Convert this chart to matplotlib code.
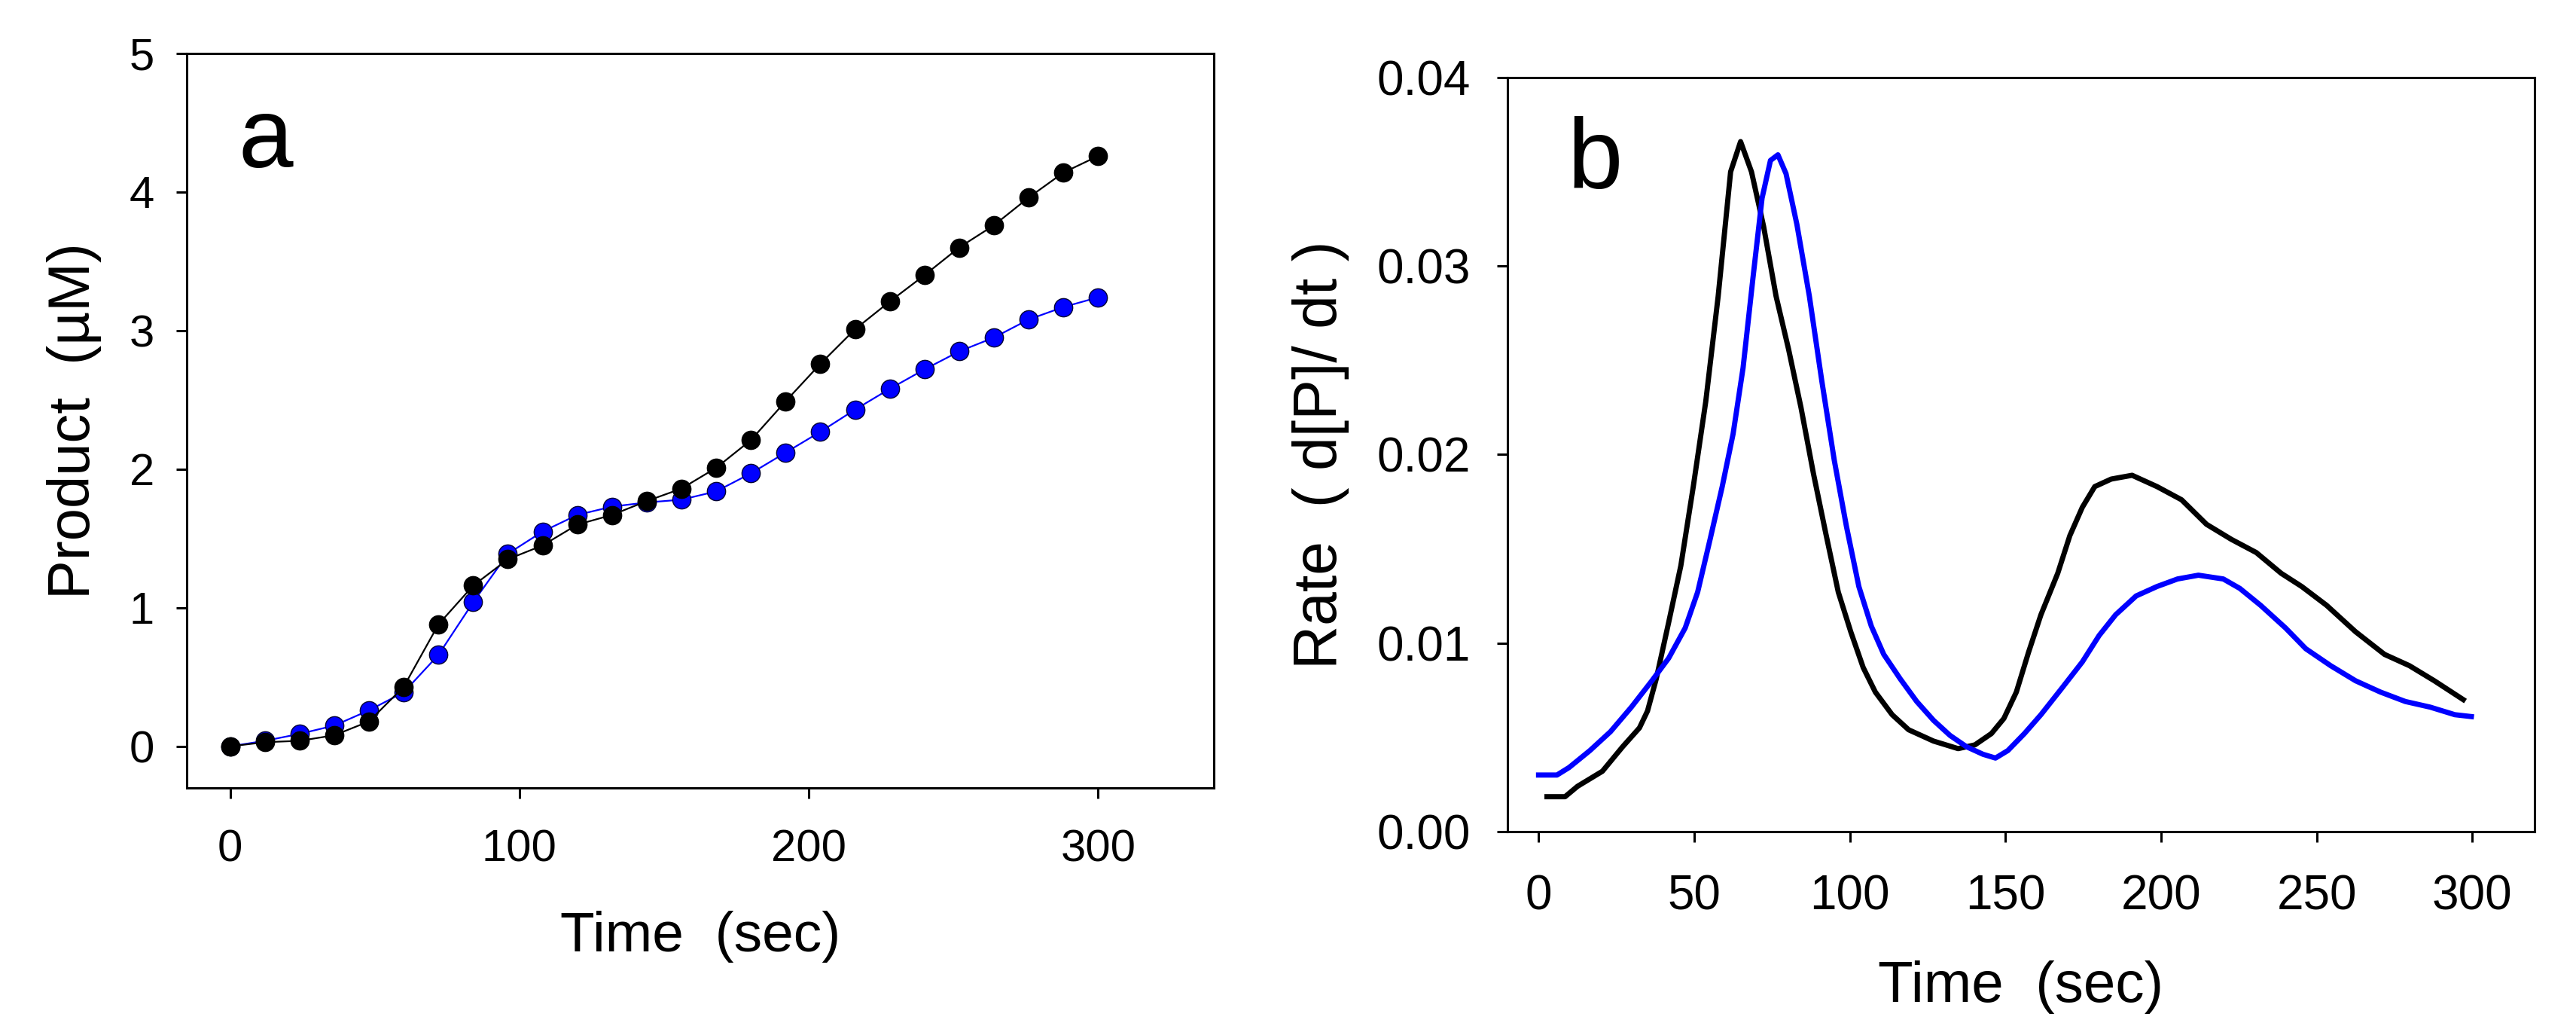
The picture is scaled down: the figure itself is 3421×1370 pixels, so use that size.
import matplotlib
matplotlib.use('Agg')
import matplotlib.pyplot as plt
import numpy as np

plt.rcParams['font.family'] = ['Liberation Sans', 'DejaVu Sans']

# panel a: product vs time, sampled every 12 s
time_a = [0, 12, 24, 36, 48, 60, 72, 84, 96, 108, 120, 132, 144, 156, 168,
          180, 192, 204, 216, 228, 240, 252, 264, 276, 288, 300]
product_black = [0.00, 0.03, 0.04, 0.08, 0.18, 0.43, 0.88, 1.16, 1.35, 1.45,
                 1.60, 1.67, 1.77, 1.86, 2.01, 2.21, 2.49, 2.76, 3.01, 3.21,
                 3.40, 3.60, 3.76, 3.96, 4.14, 4.26]
product_blue = [0.00, 0.04, 0.09, 0.15, 0.26, 0.39, 0.66, 1.04, 1.39, 1.55,
                1.67, 1.73, 1.76, 1.78, 1.84, 1.97, 2.12, 2.27, 2.43, 2.58,
                2.72, 2.85, 2.95, 3.08, 3.17, 3.24]

# panel b: rate curves
time_b_black = [2.7, 8.5, 12.5, 20.5, 27, 32.4, 35, 37.8, 41.8, 45.7, 49.7, 53.7,
                57.7, 61.7, 64.9, 68.4, 72.3, 76.3, 80.3, 84.3, 88.3, 92.3, 96.3,
                100.3, 104.3, 108.2, 113.6, 118.9, 126.9, 134.8, 140.2, 145.5,
                149.5, 153.5, 157.4, 161.4, 166.8, 170.7, 174.7, 178.7, 184,
                190.7, 198.7, 206.6, 214.6, 222.6, 230.6, 238.6, 245.2, 253.2,
                262.5, 271.8, 279.8, 287.8, 297.1]
rate_black = [0.00185, 0.00185, 0.0024, 0.0032, 0.0045, 0.0055, 0.0064, 0.0081,
              0.0111, 0.0141, 0.0183, 0.0228, 0.0284, 0.0350, 0.0366, 0.0350,
              0.0321, 0.0284, 0.0256, 0.0225, 0.0190, 0.0158, 0.0127, 0.0106,
              0.0087, 0.0074, 0.0062, 0.0054, 0.0048, 0.0044, 0.0046, 0.0052,
              0.0060, 0.0074, 0.0095, 0.0115, 0.0137, 0.0157, 0.0172, 0.0183,
              0.0187, 0.0189, 0.0183, 0.0176, 0.0163, 0.0155, 0.0148, 0.0137,
              0.0130, 0.0120, 0.0106, 0.0094, 0.0088, 0.0080, 0.0070]

time_b_blue = [0, 5.9, 9.8, 16.5, 23.1, 29.8, 36.4, 41.8, 47.1, 51.1, 55.1, 59,
               62.5, 65.7, 68.9, 71.8, 74.5, 76.9, 79.5, 83, 87, 91, 95, 98.9,
               102.9, 106.9, 110.9, 116.2, 121.5, 126.9, 132.2, 137.5, 142.8,
               146.8, 150.8, 156.1, 161.4, 168.1, 174.7, 180.1, 185.4, 192,
               198.7, 205.3, 212, 220, 225.3, 232, 240, 246.5, 254.5, 262.5,
               270.5, 278.5, 286.5, 294.4, 299.7]
rate_blue = [0.0030, 0.0030, 0.0034, 0.0043, 0.0053, 0.0066, 0.0080, 0.0092,
             0.0108, 0.0127, 0.0155, 0.0183, 0.0211, 0.0246, 0.0294, 0.0336,
             0.0356, 0.0359, 0.0349, 0.0322, 0.0284, 0.0239, 0.0197, 0.0162,
             0.0130, 0.0109, 0.0094, 0.0081, 0.0069, 0.0059, 0.0051, 0.0045,
             0.0041, 0.0039, 0.0043, 0.0052, 0.0062, 0.0076, 0.0090, 0.0104,
             0.0115, 0.0125, 0.0130, 0.0134, 0.0136, 0.0134, 0.0129, 0.0120,
             0.0108, 0.0097, 0.0088, 0.0080, 0.0074, 0.0069, 0.0066, 0.0062,
             0.0061]

xticks_a = [0, 100, 200, 300]
yticks_a = [0, 1, 2, 3, 4, 5]
xticks_b = [0, 50, 100, 150, 200, 250, 300]
yticks_b = [0.00, 0.01, 0.02, 0.03, 0.04]

fig = plt.figure(figsize=(34.21, 13.70), dpi=100)
ax1 = fig.add_axes([0.0725, 0.2365, 0.3987, 0.7117])
ax2 = fig.add_axes([0.5852, 0.1942, 0.3987, 0.7307])

for ax in (ax1, ax2):
	for sp in ax.spines.values():
		sp.set_linewidth(2.2)
	ax.tick_params(direction='out', length=10, width=2.2, top=False, right=False)

# panel a
ax1.plot(time_a, product_blue, '-', color='#0000ff', lw=1.6, marker='o',
         ms=17.5, mfc='#0000ff', mec='#000033', mew=1)
ax1.plot(time_a, product_black, '-', color='black', lw=1.6, marker='o',
         ms=17.5, mfc='black', mec='black')
ax1.set_xlim(-15, 340)
ax1.set_ylim(-0.3, 5)
ax1.set_xticks(xticks_a)
ax1.set_yticks(yticks_a)
ax1.tick_params(axis='both', labelsize=43)
ax1.tick_params(axis='x', pad=29.5)
ax1.tick_params(axis='y', pad=21)
ax1.set_xlabel('Time  (sec)', fontsize=54, labelpad=38)
ax1.set_ylabel('Product  (\u00b5M)', fontsize=56, labelpad=26)
ax1.text(0.05, 0.845, 'a', transform=ax1.transAxes, fontsize=94, ha='left', va='baseline')

# panel b
ax2.plot(time_b_black, rate_black, '-', color='black', lw=5)
ax2.plot(time_b_blue, rate_blue, '-', color='#0000ff', lw=5)
ax2.set_xlim(-10, 320)
ax2.set_ylim(0, 0.04)
ax2.set_xticks(xticks_b)
ax2.set_yticks(yticks_b)
ax2.set_yticklabels(['%.2f' % v for v in yticks_b])
ax2.tick_params(axis='both', labelsize=46)
ax2.tick_params(axis='x', pad=31)
ax2.tick_params(axis='y', pad=25.5)
ax2.set_xlabel('Time  (sec)', fontsize=55, labelpad=39)
ax2.set_ylabel('Rate  ( d[P]/ dt )', fontsize=58, labelpad=26)
ax2.text(0.058, 0.853, 'b', transform=ax2.transAxes, fontsize=95, ha='left', va='baseline')

fig.savefig('out.png', dpi=100)
